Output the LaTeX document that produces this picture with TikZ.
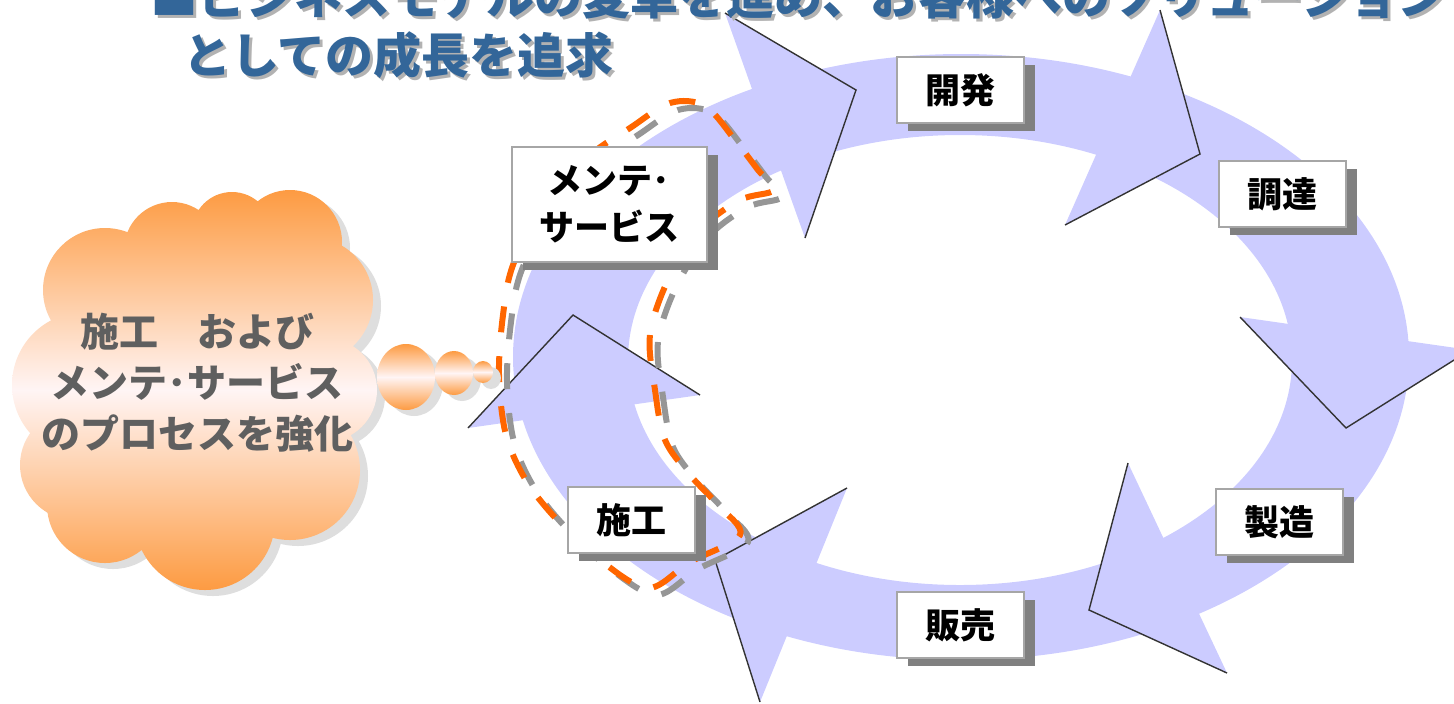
\documentclass[tikz,border=0pt]{standalone}
\usepackage{fontspec}
\setmainfont{Noto Sans CJK JP}
\usetikzlibrary{shadows}

\definecolor{ringblue}{RGB}{204,204,255}
\definecolor{dashorange}{RGB}{255,102,0}
\definecolor{dashgray}{RGB}{150,150,150}
\definecolor{cloudorange}{RGB}{253,155,66}
\definecolor{cloudshadow}{RGB}{222,222,222}
\definecolor{cloudtext}{RGB}{95,95,95}
\definecolor{titleblue}{RGB}{51,102,153}
\definecolor{boxgray}{RGB}{128,128,128}

\tikzset{
    stagebox/.style={draw=black!35, line width=1pt, fill=white, inner sep=0pt, align=center,
        minimum width=63.5pt, minimum height=33pt,
        font=\bfseries\fontsize{17.5}{23.5}\selectfont,
        drop shadow={shadow xshift=5.5pt, shadow yshift=-4pt, fill=boxgray, opacity=1}},
    headline/.style={draw=black!80, line width=0.7pt},
    puff/.style={top color=cloudorange, bottom color=cloudorange, middle color=white!96!red},
    dashloop/.style={line width=3pt, dash pattern=on 13pt off 12pt}
}

\begin{document}
\begin{tikzpicture}[x=0.5pt, y=-0.5pt]
    \useasboundingbox (0,0) rectangle (1454,703);
    \clip (0,0) rectangle (1454,703);

    \fill[ringblue, even odd rule] (961,357) ellipse [x radius=448, y radius=303]
        (960,360) ellipse [x radius=332, y radius=225];

    \fill[ringblue] (725,13) -- (856,90) -- (805,238) -- cycle;
    \fill[ringblue] (1160,10) -- (1200,154) -- (1065,225) -- cycle;
    \fill[ringblue] (1240,317) -- (1346,428) -- (1470,350) -- cycle;
    \fill[ringblue] (1128,463) -- (1089,610) -- (1227,673) -- cycle;
    \fill[ringblue] (847,488) -- (715,560) -- (760,702) -- cycle;
    \fill[ringblue] (468,428) -- (573,315) -- (700,395) -- cycle;

    \draw[headline] (725,13) -- (856,90) -- (805,238);
    \draw[headline] (1160,10) -- (1200,154) -- (1065,225);
    \draw[headline] (1240,317) -- (1346,428) -- (1470,350);
    \draw[headline] (1128,463) -- (1089,610) -- (1227,673);
    \draw[headline] (847,488) -- (715,560) -- (760,702);
    \draw[headline] (468,428) -- (573,315) -- (700,395);

    \begin{scope}[shift={(8,7)}]
        \draw[dashloop, dashgray] plot[smooth cycle, tension=0.55] coordinates {
            (650,335) (655,390) (665,440) (690,475) (718,505) (740,535) (690,562)
            (648,588) (600,560) (560,523) (527,482) (506,435) (499,375) (503,315)
            (513,265) (545,200) (590,155) (630,128) (670,103) (705,106) (735,140)
            (758,170) (774,190) (740,200) (700,230) (668,280)};
    \end{scope}
    \draw[dashloop, dashorange] plot[smooth cycle, tension=0.55] coordinates {
        (650,335) (655,390) (665,440) (690,475) (718,505) (740,535) (690,562)
        (648,588) (600,560) (560,523) (527,482) (506,435) (499,375) (503,315)
        (513,265) (545,200) (590,155) (630,128) (670,103) (705,106) (735,140)
        (758,170) (774,190) (740,200) (700,230) (668,280)};

    \node[stagebox] (kaihatsu) at (960,90) {開発};
    \node[stagebox] (chotatsu) at (1282,194) {調達};
    \node[stagebox] (seizo) at (1279,522) {製造};
    \node[stagebox] (hanbai) at (960,625) {販売};
    \node[stagebox] (seko) at (631,520) {施工};
    \node[stagebox, minimum width=97.5pt, minimum height=57.5pt] (mente) at (609,204) {メンテ･\\サービス};

    \begin{scope}[shift={(8,6)}]
        \fill[cloudshadow] (195,390) circle [radius=150] (105,290) circle [radius=62]
            (172,250) circle [radius=48] (232,232) circle [radius=40] (290,242) circle [radius=52]
            (310,300) circle [radius=63] (325,390) circle [radius=52] (290,470) circle [radius=70]
            (205,520) circle [radius=70] (105,505) circle [radius=58] (75,465) circle [radius=55]
            (85,385) circle [radius=73];
        \fill[cloudshadow] (406,377) ellipse [x radius=29, y radius=33];
        \fill[cloudshadow] (454,373) ellipse [x radius=19, y radius=22];
        \fill[cloudshadow] (483,372) ellipse [x radius=10, y radius=11];
    \end{scope}
    \shade[puff] (195,390) circle [radius=150] (105,290) circle [radius=62]
        (172,250) circle [radius=48] (232,232) circle [radius=40] (290,242) circle [radius=52]
        (310,300) circle [radius=63] (325,390) circle [radius=52] (290,470) circle [radius=70]
        (205,520) circle [radius=70] (105,505) circle [radius=58] (75,465) circle [radius=55]
        (85,385) circle [radius=73];
    \shade[puff] (406,377) ellipse [x radius=29, y radius=33];
    \shade[puff] (454,373) ellipse [x radius=19, y radius=22];
    \shade[puff] (483,372) ellipse [x radius=10, y radius=11];

    \node[text=cloudtext, align=center, font=\bfseries\fontsize{19.5}{25.5}\selectfont] (kyoka) at (197,383)
        {施工　および\\メンテ･サービス\\のプロセスを強化};

    \begin{scope}[font=\bfseries\fontsize{24}{24}\selectfont, inner sep=0pt, anchor=west]
        \node[text=black!30] at (153,-1) {■ビジネスモデルの変革を進め、お客様へのソリューション};
        \node[text=titleblue] (title1) at (150,-4) {■ビジネスモデルの変革を進め、お客様へのソリューション};
        \node[text=black!30] at (186,58) {としての成長を追求};
        \node[text=titleblue] (title2) at (183,55) {としての成長を追求};
    \end{scope}
\end{tikzpicture}
\end{document}
